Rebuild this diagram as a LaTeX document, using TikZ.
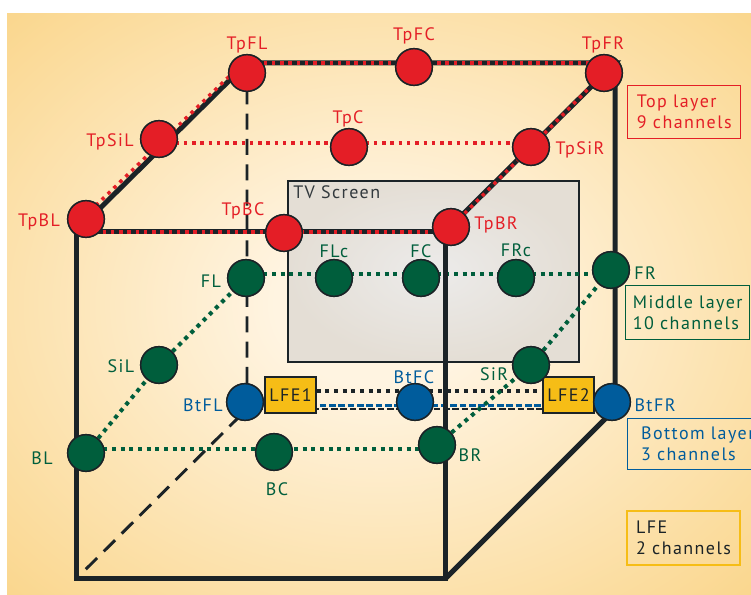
\documentclass[tikz,border=0pt]{standalone}
\usepackage{fontspec}
\setmainfont[LetterSpace=8]{PT Sans}
\usetikzlibrary{positioning}

\definecolor{tpred}{HTML}{E41E26}
\definecolor{midgreen}{HTML}{005E3C}
\definecolor{botblue}{HTML}{005C9C}
\definecolor{lfeyellow}{HTML}{F6BD16}
\definecolor{edgeblack}{HTML}{1B2327}
\definecolor{bgedge}{HTML}{FAD68C}
\definecolor{bgmid}{HTML}{FFF4E1}
\definecolor{tvmid}{HTML}{ECEBEA}
\definecolor{tvedge}{HTML}{E4DED5}

\pgfdeclareradialshading{bgglow}{\pgfpoint{0bp}{0bp}}{color(0bp)=(bgmid); color(7bp)=(bgmid); color(36bp)=(bgedge); color(50bp)=(bgedge)}

\tikzset{
  spk/.style={circle,draw=edgeblack,line width=1.1pt,minimum size=27.5pt,inner sep=0pt},
  redspk/.style={spk,fill=tpred},
  greenspk/.style={spk,fill=midgreen},
  bluespk/.style={spk,fill=botblue},
  lfebox/.style={draw=edgeblack,fill=lfeyellow,line width=1.1pt,minimum width=38pt,minimum height=27pt,inner sep=0pt,font=\fontsize{13.5}{15}\selectfont,text=edgeblack},
  lbl/.style={inner sep=0pt,font=\fontsize{13.5}{15}\selectfont},
  legend/.style={draw,line width=1.1pt,anchor=north west,align=left,inner sep=0pt,font=\fontsize{13.5}{15.75}\selectfont},
  cubeedge/.style={draw=edgeblack,line width=3.75pt},
  hiddenedge/.style={draw=edgeblack,line width=2.2pt,dash pattern=on 12pt off 7pt},
  hiddenthin/.style={draw=edgeblack,line width=1.1pt,dash pattern=on 5pt off 2pt},
  reddots/.style={draw=tpred,line width=2.6pt,dash pattern=on 2.6pt off 3.6pt},
  greendots/.style={draw=midgreen,line width=3pt,dash pattern=on 3pt off 3.5pt},
  blackdots/.style={draw=edgeblack,line width=3pt,dash pattern=on 3pt off 3.5pt},
  bluedots/.style={draw=botblue,line width=2.6pt,dash pattern=on 5pt off 2pt}
}

\begin{document}
\begin{tikzpicture}[x=0.75pt,y=-0.75pt]
\useasboundingbox (0,0) rectangle (751,595);
\clip (0,0) rectangle (751,595);

%Background
\fill[white] (0,0) rectangle (751,595);
\shade[shading=bgglow] (7,14) rectangle (751,595);

%TV screen
\node[draw=edgeblack,line width=1.4pt,inner color=tvmid,outer color=tvedge,anchor=north west,
  minimum width=218.25pt,minimum height=135.75pt,inner sep=0pt] (tv) at (287,180) {};
\node[lbl,anchor=west,text=edgeblack!90] (tvtext) at (293,192) {TV Screen};

%Cube corners
\coordinate (ftl) at (76,232);
\coordinate (ftr) at (445,232);
\coordinate (fbl) at (76,579);
\coordinate (fbr) at (445,579);
\coordinate (btl) at (247,63);
\coordinate (btr) at (615,63);
\coordinate (bbl) at (247,409);
\coordinate (bbr) at (615,409);

%Hidden edges
\draw[hiddenedge] (btl) -- (bbl) -- (fbl);
\draw[hiddenthin] (bbl) -- (bbr);

%Visible edges
\draw[cubeedge,line join=miter] (ftl) -- (ftr) -- (fbr) -- (fbl) -- cycle;
\draw[cubeedge,line join=miter] (ftl) -- (btl) -- (btr) -- (ftr);
\draw[cubeedge,line join=miter] (btr) -- (bbr) -- (fbr);

%Speakers
\node[redspk] (TpFL) at (247,73) {};
\node[redspk] (TpFC) at (414,67) {};
\node[redspk] (TpFR) at (604,73) {};
\node[redspk] (TpSiL) at (159,139) {};
\node[redspk] (TpC) at (349,147) {};
\node[redspk] (TpSiR) at (531,147) {};
\node[redspk] (TpBL) at (86,219) {};
\node[redspk] (TpBC) at (284,233) {};
\node[redspk] (TpBR) at (451,227) {};

\node[greenspk] (FL) at (246,278) {};
\node[greenspk] (FLc) at (334,278) {};
\node[greenspk] (FC) at (421,278) {};
\node[greenspk] (FRc) at (516,278) {};
\node[greenspk] (FR) at (611,270) {};
\node[greenspk] (SiL) at (159,365) {};
\node[greenspk] (SiR) at (531,365) {};
\node[greenspk] (BL) at (86,453) {};
\node[greenspk] (BC) at (274,452) {};
\node[greenspk] (BR) at (437,445) {};

\node[bluespk] (BtFL) at (245,402) {};
\node[bluespk] (BtFC) at (415,402) {};
\node[bluespk] (BtFR) at (612,402) {};

%Layer connections
\draw[reddots] (btl -| TpFL) -- (btr -| TpFR);
\draw[reddots] (ftl -| TpBL) -- (ftr -| TpBR);
\draw[reddots] ([shift={(-1.5pt,1.5pt)}]TpBL.center) -- ([shift={(-1.5pt,1.5pt)}]btl -| TpFL);
\draw[reddots] (TpBR) -- (TpSiR) -- (TpFR);
\draw[reddots] ([yshift=-3pt]TpSiL.center) -- ([yshift=-3pt]TpSiL.center -| TpSiR);

\draw[greendots] ([yshift=3pt]FL.center) -- ([yshift=3pt]FL.center -| FR);
\draw[greendots] (BL) -- (SiL) -- (FL);
\draw[greendots] ([yshift=3pt]BL.center) -- ([yshift=3pt]BL.center -| BR);

\draw[bluedots] ([yshift=-2.5pt]BtFL.center) -- ([yshift=-2.5pt]BtFR.center);

%front right edge over the back lines
\draw[cubeedge] (ftr) -- (fbr);

%LFE
\node[lfebox] (LFE1) at (290.5,395) {LFE1};
\node[lfebox] (LFE2) at (568.5,395) {LFE2};
\draw[blackdots] ([yshift=3pt]LFE1.east) -- ([yshift=3pt]LFE2.west);
\draw[greendots] (BR) -- (SiR) -- (FR);

%speakers on top again
\foreach \s in {TpFL,TpFC,TpFR,TpSiL,TpC,TpSiR,TpBL,TpBC,TpBR}
  \node[redspk] at (\s) {};
\foreach \s in {FL,FLc,FC,FRc,FR,SiL,SiR,BL,BC,BR}
  \node[greenspk] at (\s) {};
\foreach \s in {BtFL,BtFC,BtFR}
  \node[bluespk] at (\s) {};

%Labels
\node[lbl,text=tpred] (TpFL-l) at (247,45) {TpFL};
\node[lbl,text=tpred] (TpFC-l) at (414,36) {TpFC};
\node[lbl,text=tpred] (TpFR-l) at (603,45) {TpFR};
\node[lbl,text=tpred] (TpSiL-l) at (110,142) {TpSiL};
\node[lbl,text=tpred] (TpC-l) at (348,119) {TpC};
\node[lbl,text=tpred] (TpSiR-l) at (580,150) {TpSiR};
\node[lbl,text=tpred] (TpBL-l) at (39,222) {TpBL};
\node[lbl,text=tpred] (TpBC-l) at (243,211) {TpBC};
\node[lbl,text=tpred] (TpBR-l) at (496,225) {TpBR};

\node[lbl,text=midgreen] (FL-l) at (211,281) {FL};
\node[lbl,text=midgreen] (FLc-l) at (334,251) {FLc};
\node[lbl,text=midgreen] (FC-l) at (421,251) {FC};
\node[lbl,text=midgreen] (FRc-l) at (516,250) {FRc};
\node[lbl,text=midgreen] (FR-l) at (645,273) {FR};
\node[lbl,text=midgreen] (SiL-l) at (121,366) {SiL};
\node[lbl,text=midgreen] (SiR-l) at (494,374) {SiR};
\node[lbl,text=midgreen] (BL-l) at (42,458) {BL};
\node[lbl,text=midgreen] (BC-l) at (277,489) {BC};
\node[lbl,text=midgreen] (BR-l) at (470,455) {BR};

\node[lbl,text=botblue] (BtFL-l) at (203,405) {BtFL};
\node[lbl,text=botblue] (BtFC-l) at (414,377) {BtFC};
\node[lbl,text=botblue] (BtFR-l) at (655,405) {BtFR};

%Legend
\node[legend,draw=tpred,text=tpred,minimum width=84.75pt,minimum height=39.75pt] (toplegend) at (627,85) {Top layer\\9 channels};
\node[legend,draw=midgreen,text=midgreen,minimum width=93pt,minimum height=40.5pt] (midlegend) at (625,285) {Middle layer\\10 channels};
\node[legend,draw=botblue,text=botblue,minimum width=105pt,minimum height=38.25pt] (botlegend) at (627,418) {Bottom layer\\3 channels};
\node[legend,draw=lfeyellow,text=edgeblack,line width=1.5pt,minimum width=84.75pt,minimum height=40.5pt] (lfelegend) at (626,510) {LFE\\2 channels};
\end{tikzpicture}
\end{document}
